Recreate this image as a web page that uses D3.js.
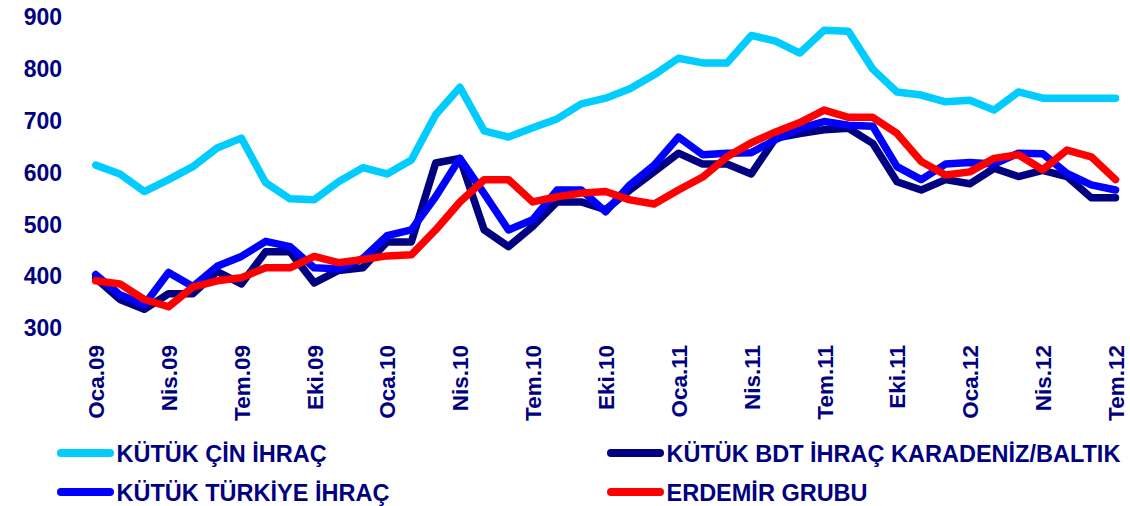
<!DOCTYPE html>
<html>
<head>
<meta charset="utf-8">
<script src="https://cdn.jsdelivr.net/npm/d3@7"></script>
<style>
  html, body { margin: 0; padding: 0; background: #fff; }
  svg { display: block; font-family: "Liberation Sans", Arial, sans-serif; font-weight: bold; }
</style>
</head>
<body>
<svg id="chart" width="1130" height="506"></svg>
<script>
const categories = [
  "Oca.09","Şub.09","Mar.09","Nis.09","May.09","Haz.09","Tem.09","Ağu.09","Eyl.09","Eki.09","Kas.09","Ara.09",
  "Oca.10","Şub.10","Mar.10","Nis.10","May.10","Haz.10","Tem.10","Ağu.10","Eyl.10","Eki.10","Kas.10","Ara.10",
  "Oca.11","Şub.11","Mar.11","Nis.11","May.11","Haz.11","Tem.11","Ağu.11","Eyl.11","Eki.11","Kas.11","Ara.11",
  "Oca.12","Şub.12","Mar.12","Nis.12","May.12","Haz.12","Tem.12"
];
const tickLabels = ["Oca.09","Nis.09","Tem.09","Eki.09","Oca.10","Nis.10","Tem.10","Eki.10","Oca.11","Nis.11","Tem.11","Eki.11","Oca.12","Nis.12","Tem.12"];
const yTicks = [300, 400, 500, 600, 700, 800, 900];

const kutukCin = [613,596,562,585,610,646,665,579,548,546,581,608,596,623,710,763,679,667,685,702,731,742,760,787,819,810,810,863,852,829,873,871,798,754,748,735,738,719,754,742,742,742,742];
const kutukBdt = [395,354,335,365,365,408,384,446,446,386,410,415,465,465,617,626,488,456,495,542,542,527,565,600,636,615,615,596,665,674,681,684,655,581,565,585,577,607,591,603,591,550,550];
const kutukTurkiye = [402,363,344,406,379,418,437,466,456,415,413,433,477,488,552,626,558,488,508,565,565,523,575,613,667,633,636,637,662,684,697,690,688,610,585,615,618,615,636,635,597,575,565];
const erdemir = [390,384,354,340,378,390,396,415,415,437,425,431,438,440,488,542,585,585,542,552,559,562,546,538,565,590,629,656,677,695,719,705,705,674,620,594,600,626,633,604,642,629,585];

const seriesNames = ["KÜTÜK ÇİN İHRAÇ", "KÜTÜK BDT İHRAÇ KARADENİZ/BALTIK", "KÜTÜK TÜRKİYE İHRAÇ", "ERDEMİR GRUBU"];
const seriesColors = ["#00CCFF", "#000080", "#0000FF", "#FF0000"];
const seriesData = [kutukCin, kutukBdt, kutukTurkiye, erdemir];

const textColor = "#000080";
const svg = d3.select("#chart");

const x = d3.scalePoint().domain(categories).range([95.7, 1115.5]);
const y = d3.scaleLinear().domain([300, 900]).range([327.5, 16.2]);

// Y axis
const yAxis = d3.axisLeft(y).tickValues(yTicks).tickSize(0).tickPadding(0).tickFormat(d3.format("d"));
const gy = svg.append("g").attr("transform", "translate(62,0)").call(yAxis);
gy.select(".domain").remove();
gy.selectAll("text")
  .attr("fill", textColor)
  .attr("font-size", "23px")
  .attr("font-weight", "bold")
  .attr("font-family", "'Liberation Sans', Arial, sans-serif")
  .attr("dy", "0.36em");

// X axis
const xAxis = d3.axisBottom(x).tickValues(tickLabels).tickSize(0).tickPadding(0);
const gx = svg.append("g").attr("transform", "translate(0,345)").call(xAxis);
gx.select(".domain").remove();
gx.selectAll("text")
  .attr("fill", textColor)
  .attr("font-size", "22.5px")
  .attr("font-weight", "bold")
  .attr("font-family", "'Liberation Sans', Arial, sans-serif")
  .attr("text-anchor", "end")
  .attr("transform", "rotate(-90)")
  .attr("x", 0)
  .attr("y", 0)
  .attr("dy", "0.35em");

// Lines
const line = d3.line().x((d, i) => x(categories[i])).y(d => y(d));
svg.append("g").selectAll("path")
  .data(seriesData)
  .join("path")
  .attr("d", d => line(d))
  .attr("fill", "none")
  .attr("stroke", (d, i) => seriesColors[i])
  .attr("stroke-width", 7.5)
  .attr("stroke-linejoin", "round")
  .attr("stroke-linecap", "round");

// Legend
const legendPos = [
  { lx: 57, ly: 453, tx: 116.5 },
  { lx: 607, ly: 453, tx: 666.5 },
  { lx: 57, ly: 492, tx: 116.5 },
  { lx: 607, ly: 492, tx: 666.5 }
];
const lg = svg.append("g").selectAll("g").data(seriesNames).join("g");
lg.append("line")
  .attr("x1", (d, i) => legendPos[i].lx + 4)
  .attr("x2", (d, i) => legendPos[i].lx + 53)
  .attr("y1", (d, i) => legendPos[i].ly)
  .attr("y2", (d, i) => legendPos[i].ly)
  .attr("stroke", (d, i) => seriesColors[i])
  .attr("stroke-width", 8)
  .attr("stroke-linecap", "round");
lg.append("text")
  .attr("x", (d, i) => legendPos[i].tx)
  .attr("y", (d, i) => legendPos[i].ly + 9)
  .attr("fill", textColor)
  .attr("font-size", "23.5px")
  .attr("font-weight", "bold")
  .text(d => d);
</script>
</body>
</html>
